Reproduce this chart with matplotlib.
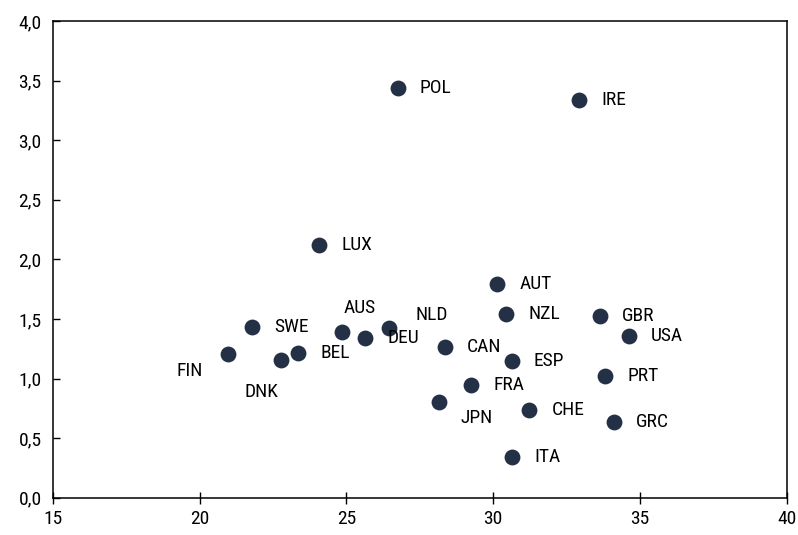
import matplotlib
matplotlib.use("Agg")
import matplotlib.pyplot as plt
from matplotlib.ticker import FuncFormatter
from matplotlib import font_manager

names = {f.name for f in font_manager.fontManager.ttflist}
fam = [f for f in ['Roboto Condensed', 'Liberation Sans Narrow', 'Roboto'] if f in names]
plt.rcParams['font.family'] = fam + ['DejaVu Sans']

countries = ['POL', 'IRE', 'LUX', 'AUT', 'NZL', 'GBR', 'USA', 'SWE', 'AUS', 'NLD', 'DEU',
             'CAN', 'BEL', 'FIN', 'DNK', 'ESP', 'PRT', 'FRA', 'JPN', 'CHE', 'GRC', 'ITA']
x_vals = [26.75, 32.92, 24.07, 30.14, 30.44, 33.63, 34.61, 21.79, 24.86, 26.45, 25.65,
          28.35, 23.37, 20.97, 22.78, 30.63, 33.82, 29.24, 28.14, 31.23, 34.11, 30.63]
y_vals = [3.44, 3.34, 2.12, 1.79, 1.545, 1.523, 1.358, 1.433, 1.391, 1.42, 1.336,
          1.266, 1.215, 1.205, 1.154, 1.148, 1.023, 0.945, 0.805, 0.735, 0.632, 0.344]

# label offsets in points (default: right of the dot)
special = {'NLD': (19, 10, 'left'), 'AUS': (1, 17, 'left'), 'JPN': (16, -12, 'left'),
           'FIN': (-18, -12, 'right'), 'DNK': (-14, -23, 'center')}

fig = plt.figure(figsize=(7.98, 5.35), dpi=100)
ax = fig.add_axes([0.066, 0.0697, 0.92, 0.891])

ax.scatter(x_vals, y_vals, s=130, color='#243046', zorder=3, linewidths=0)

for name, xv, yv in zip(countries, x_vals, y_vals):
    dx, dy, ha = special.get(name, (16, 0, 'left'))
    ax.annotate(name, (xv, yv), xytext=(dx, dy), textcoords='offset points',
                ha=ha, va='center', fontsize=14, color='black')

ax.set_xlim(15, 40)
ax.set_ylim(0, 4)
ax.set_xticks([15, 20, 25, 30, 35, 40])
ax.set_yticks([0, 0.5, 1, 1.5, 2, 2.5, 3, 3.5, 4])
ax.yaxis.set_major_formatter(FuncFormatter(lambda v, p: f"{v:.1f}".replace('.', ',')))

for s in ax.spines.values():
    s.set_linewidth(1.1)
ax.tick_params(axis='y', direction='in', length=5, width=1, labelsize=14, pad=8)
ax.tick_params(axis='x', direction='inout', length=9, width=1, labelsize=14, pad=4)

fig.savefig('out.png', dpi=100)
